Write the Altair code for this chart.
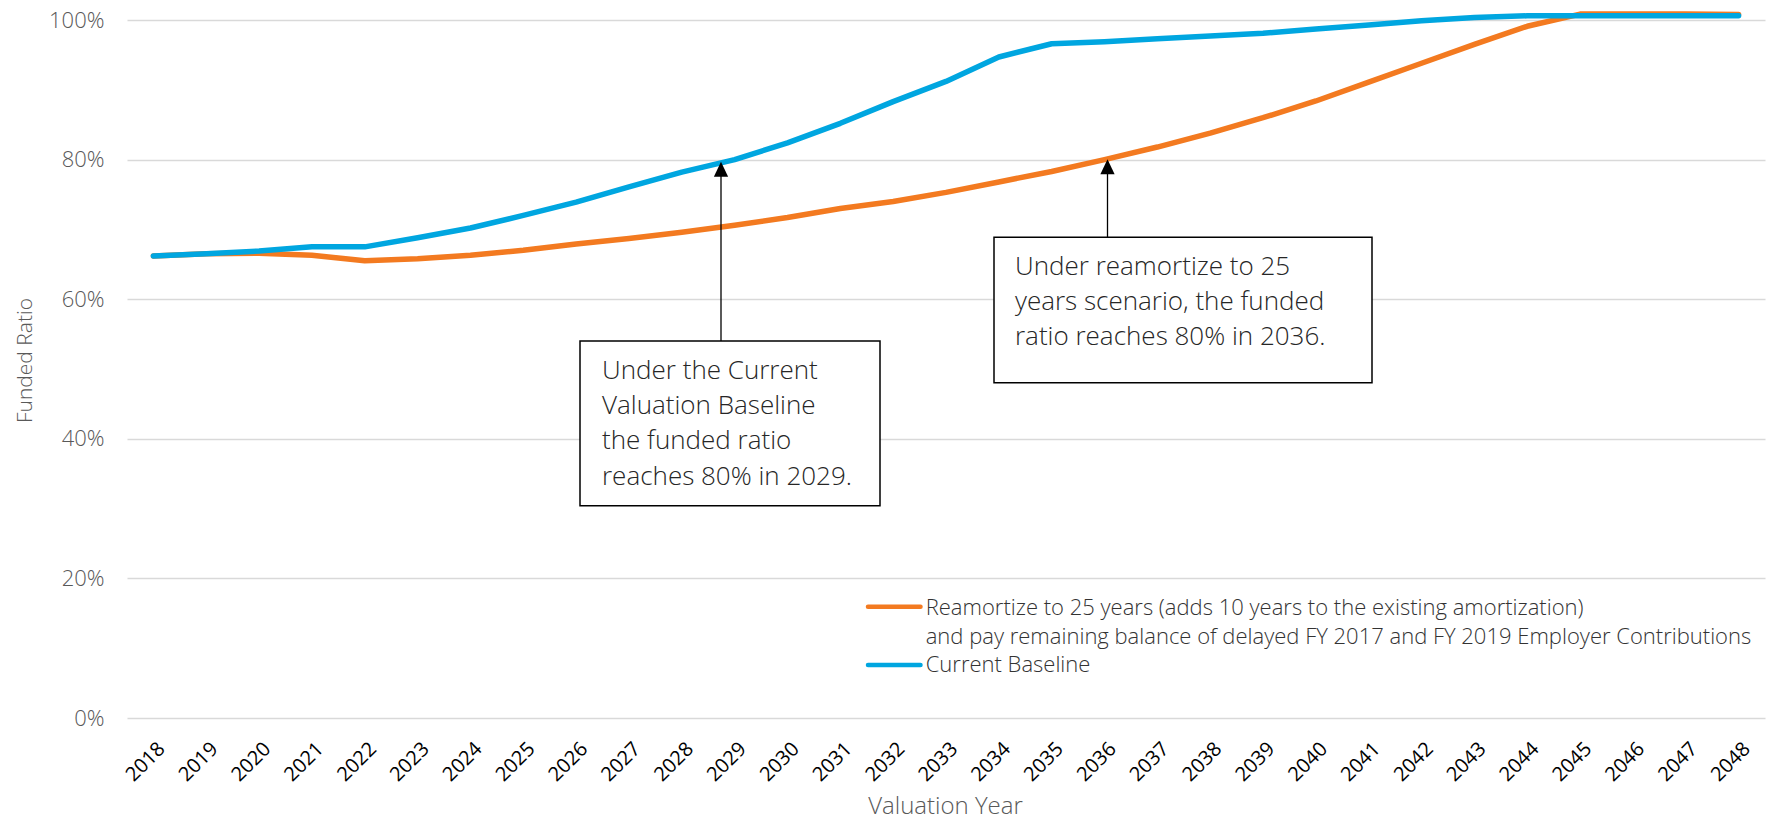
import altair as alt
import pandas as pd

# ---------------- data ----------------
years = list(range(2018, 2049))
baseline = [66.2, 66.5, 66.9, 67.5, 67.5, 68.8, 70.2, 72.0, 73.9, 76.1, 78.2, 80.0,
            82.4, 85.2, 88.3, 91.2, 94.7, 96.6, 96.9, 97.3, 97.7, 98.1, 98.7, 99.3,
            99.9, 100.35, 100.6, 100.6, 100.6, 100.6, 100.6]
reamortize = [66.2, 66.5, 66.6, 66.3, 65.5, 65.8, 66.3, 67.0, 67.9, 68.7, 69.6, 70.6,
              71.7, 73.0, 74.0, 75.3, 76.8, 78.3, 80.0, 81.8, 83.8, 86.0, 88.4, 91.1,
              93.8, 96.5, 99.1, 100.85, 100.85, 100.85, 100.8]
series_names = [
    "Reamortize to 25 years (adds 10 years to the existing amortization)\n"
    "and pay remaining balance of delayed FY 2017 and FY 2019 Employer Contributions",
    "Current Baseline",
]
series_colors = ["#F37A20", "#00A6E0"]
y_ticks = [0, 0.2, 0.4, 0.6, 0.8, 1.0]
note_baseline = "Under the Current\nValuation Baseline\nthe funded ratio\nreaches 80% in 2029."
note_reamort = "Under reamortize to 25\nyears scenario, the funded\nratio reaches 80% in 2036."

FONT = "Open Sans"
GRAY = "#595959"

df_re = pd.DataFrame({"year": [str(y) for y in years],
                      "value": [v / 100 for v in reamortize],
                      "series": series_names[0]})
df_bl = pd.DataFrame({"year": [str(y) for y in years],
                      "value": [v / 100 for v in baseline],
                      "series": series_names[1]})

color = alt.Color("series:N", scale=alt.Scale(domain=series_names, range=series_colors),
                  legend=None)

x_enc = alt.X("year:O", scale=alt.Scale(type="point", padding=0.5),
              axis=alt.Axis(title="Valuation Year", labelAngle=315, labelAlign="right",
                            labelBaseline="middle", labelFont=FONT, labelFontSize=20,
                            labelColor="black", labelPadding=27.5, labelOffset=8,
                            ticks=False, tickSize=0, domain=False, grid=False,
                            titleFont=FONT, titleFontWeight=300, titleFontSize=24,
                            titleColor=GRAY, titleX=818, titleY=88,
                            titleBaseline="middle", titleAlign="center"))
y_enc = alt.Y("value:Q", scale=alt.Scale(domain=[0, 1]),
              axis=alt.Axis(title="Funded Ratio", values=y_ticks, format=".0%",
                            labelFont=FONT, labelFontWeight=300, labelFontSize=22,
                            labelColor=GRAY, labelPadding=23, ticks=False, tickSize=0,
                            domain=False, grid=True, gridColor="#D9D9D9", gridWidth=1.5,
                            titleFont=FONT, titleFontWeight=300, titleFontSize=21,
                            titleColor=GRAY, titleX=-102, titleY=340, titleAngle=270,
                            titleBaseline="middle", titleAlign="center"))

line_re = alt.Chart(df_re).mark_line(strokeWidth=5.5, strokeCap="round", strokeJoin="round").encode(
    x=x_enc, y=y_enc, color=color)
line_bl = alt.Chart(df_bl).mark_line(strokeWidth=5.5, strokeCap="round", strokeJoin="round").encode(
    x="year:O", y="value:Q", color=color)

# ---------------- annotations (pixel positions inside the plot area) ----------------
one = pd.DataFrame({"k": [0]})

box1 = alt.Chart(one).mark_rect(fill="white", stroke="black", strokeWidth=1.5).encode(
    x=alt.value(453), x2=alt.value(753), y=alt.value(321), y2=alt.value(485.7))
box2 = alt.Chart(one).mark_rect(fill="white", stroke="black", strokeWidth=1.5).encode(
    x=alt.value(867), x2=alt.value(1245), y=alt.value(217.3), y2=alt.value(362.7))

shaft1 = alt.Chart(one).mark_rule(color="black", strokeWidth=1.3).encode(
    x=alt.value(594), y=alt.value(155), y2=alt.value(321))
shaft2 = alt.Chart(one).mark_rule(color="black", strokeWidth=1.3).encode(
    x=alt.value(980.5), y=alt.value(152.5), y2=alt.value(217.3))
head1 = alt.Chart(one).mark_point(shape="M0,-1L0.95,1L-0.95,1Z", filled=True, size=225,
                                  color="black", opacity=1, strokeWidth=0).encode(
    x=alt.value(594), y=alt.value(149.2))
head2 = alt.Chart(one).mark_point(shape="M0,-1L0.95,1L-0.95,1Z", filled=True, size=225,
                                  color="black", opacity=1, strokeWidth=0).encode(
    x=alt.value(980.5), y=alt.value(146.8))

txt1 = alt.Chart(pd.DataFrame({"t": [note_baseline]})).mark_text(
    align="left", baseline="alphabetic", font=FONT, fontWeight=300, fontSize=26,
    color="#262626", lineBreak="\n", lineHeight=35.4).encode(
    x=alt.value(475), y=alt.value(358.7), text="t:N")
txt2 = alt.Chart(pd.DataFrame({"t": [note_reamort]})).mark_text(
    align="left", baseline="alphabetic", font=FONT, fontWeight=300, fontSize=26,
    color="#262626", lineBreak="\n", lineHeight=35).encode(
    x=alt.value(888), y=alt.value(255.3), text="t:N")

# ---------------- legend (drawn in the plot area) ----------------
leg_df = pd.DataFrame({"series": series_names})
leg_sym_re = alt.Chart(leg_df.iloc[[0]]).mark_rule(strokeWidth=4.5, strokeCap="round").encode(
    x=alt.value(741), x2=alt.value(793.5), y=alt.value(586.7), color=color)
leg_sym_bl = alt.Chart(leg_df.iloc[[1]]).mark_rule(strokeWidth=4.5, strokeCap="round").encode(
    x=alt.value(741), x2=alt.value(793.5), y=alt.value(645), color=color)
leg_txt_re = alt.Chart(leg_df.iloc[[0]]).mark_text(
    align="left", baseline="alphabetic", font=FONT, fontWeight=300, fontSize=22,
    color="#333333", lineBreak="\n", lineHeight=29.3).encode(
    x=alt.value(798.7), y=alt.value(595), text="series:N")
leg_txt_bl = alt.Chart(leg_df.iloc[[1]]).mark_text(
    align="left", baseline="alphabetic", font=FONT, fontWeight=300, fontSize=22,
    color="#333333").encode(
    x=alt.value(798.7), y=alt.value(652.3), text="series:N")

chart = alt.layer(
    line_re, line_bl, shaft1, shaft2, head1, head2, box1, box2, txt1, txt2,
    leg_sym_re, leg_sym_bl, leg_txt_re, leg_txt_bl
).properties(
    width=1638, height=698,
    padding={"left": 119, "top": 12, "right": 4, "bottom": 101},
    autosize=alt.AutoSizeParams(type="none"),
).configure(background="white").configure_view(stroke=None, strokeWidth=0)

chart.save("out.html", embed_options={"renderer": "svg", "actions": False})
